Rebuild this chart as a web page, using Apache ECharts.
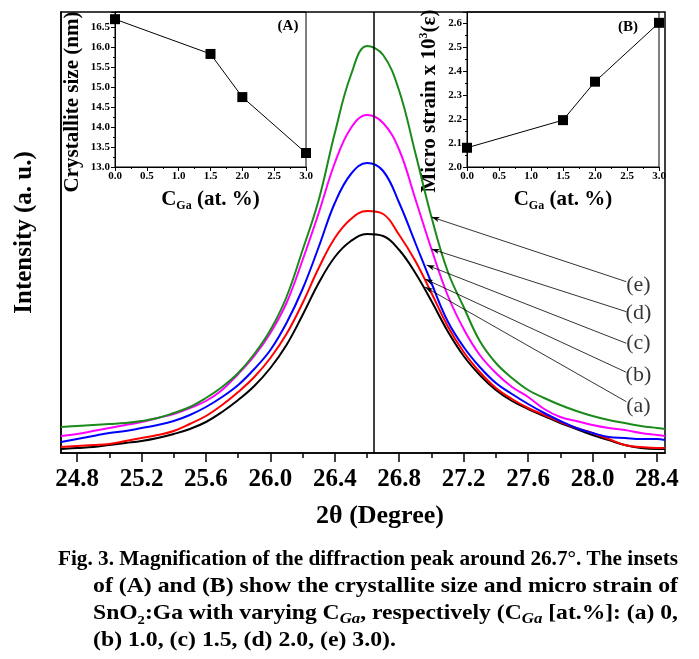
<!DOCTYPE html>
<html><head><meta charset="utf-8">
<script src="https://cdn.jsdelivr.net/npm/echarts@6/dist/echarts.min.js"></script>
<style>html,body{margin:0;padding:0;background:#fff}#c{width:699px;height:659px}</style>
</head><body><div id="c"></div>
<script>
// ---- data ----
const twoTheta   = [24.7,24.8,24.9,25.0,25.1,25.2,25.3,25.4,25.5,25.6,25.7,25.8,25.9,26.0,26.1,26.2,26.3,26.4,26.5,26.6,26.7,26.8,26.9,27.0,27.1,27.2,27.3,27.4,27.5,27.6,27.7,27.8,27.9,28.0,28.1,28.2,28.3,28.4,28.45];
const intensityA = [4,5,6,8,10,12,15,19,24,31,41,53,67,85,108,138,170,196,212,219,217,203,180,152,122,97,78,63,52,44,37,30,24,18,13,8,5,4,4];         // (a) 0 at.%
const intensityB = [6,7,8,9,12,15,18,22,29,37,48,61,76,95,119,150,185,215,234,242,239,218,192,160,127,101,81,65,54,45,38,31,25,20,14,8,6,5,5];     // (b) 1.0
const intensityC = [11,14,17,20,22,25,28,32,38,46,56,68,84,103,130,164,206,250,279,290,282,250,210,170,132,106,86,70,59,49,40,32,25,20,16,15,14,14,13]; // (c) 1.5
const intensityD = [17,19,22,25,28,31,35,39,45,52,63,79,97,120,150,193,240,290,325,338,330,303,254,204,158,124,98,80,66,56,44,36,32,28,25,23,20,18,17]; // (d) 2.0
const intensityE = [26,27,28,29,30,32,35,40,46,55,66,80,99,123,156,203,253,320,378,407,398,362,300,236,182,146,112,90,75,63,55,48,42,37,33,30,27,25,24]; // (e) 3.0
const majorTicks = [24.8,25.2,25.6,26.0,26.4,26.8,27.2,27.6,28.0,28.4];
const minorTicks = [25.0,25.4,25.8,26.2,26.6,27.0,27.4,27.8,28.2];
const peakPosition = 26.645;

const cGa = [0,1.5,2.0,3.0];
const crystalliteSize = [16.70,15.83,14.75,13.35];
const microStrain = [2.08,2.195,2.355,2.60];

const curveLabels = ['(e)','(d)','(c)','(b)','(a)'];
const labelX = [28.285,28.285,28.285,28.285,28.285];
const labelY = [168,139.7,109.7,78,46.3];
const arrowFromX = [28.21,28.21,28.21,28.21,28.21];
const arrowFromY = [171.3,141.3,109.7,80.7,51.3];
const arrowToX = [27.0,27.0,26.97,26.96,26.96];
const arrowToY = [236,204,188,174,166];

const captionLines = [
  [{t:'Fig. 3. Magnification of the diffraction peak around 26.7°. The insets',k:'n'}],
  [{t:'of (A) and (B) show the crystallite size and micro strain of',k:'n'}],
  [{t:'SnO',k:'n'},{t:'2',k:'sub'},{t:':Ga with varying C',k:'n'},{t:'Ga',k:'isub'},{t:', respectively (C',k:'n'},{t:'Ga',k:'isub'},{t:' [at.%]: (a) 0,',k:'n'}],
  [{t:'(b) 1.0, (c) 1.5, (d) 2.0, (e) 3.0).',k:'n'}]
];

// ---- styles ----
const F = '"Liberation Serif","Times New Roman",serif';
const capRich = {
  n:{fontFamily:F,fontSize:21,fontWeight:'bold',lineHeight:26,color:'#000'},
  sub:{fontFamily:F,fontSize:13,fontWeight:'bold',lineHeight:13,verticalAlign:'bottom',color:'#000'},
  isub:{fontFamily:F,fontSize:15,fontWeight:'bold',fontStyle:'italic',lineHeight:15,verticalAlign:'bottom',color:'#000'}
};
const ctx = document.createElement('canvas').getContext('2d');
function segWidth(segs){
  let w=0;
  segs.forEach(s=>{const st=capRich[s.k];ctx.font=(st.fontStyle||'normal')+' '+st.fontWeight+' '+st.fontSize+'px '+F;w+=ctx.measureText(s.t).width;});
  return w;
}
const capLeft=[58,93,93,93], capRight=678, capY=[560,587,614,641];
const capScale = captionLines.map((segs,i)=>(capRight-capLeft[i])/segWidth(segs));
capScale[3]=capScale[1];
const captionGraphics = captionLines.map((segs,i)=>({
  type:'text', x:capLeft[i], y:capY[i], scaleX:capScale[i], originX:0, originY:0,
  style:{text:segs.map(s=>'{'+s.k+'|'+s.t+'}').join(''), rich:capRich, align:'left', verticalAlign:'middle', fill:'#000'}
}));

const sub = {
  c:{fontFamily:F,fontSize:21,fontWeight:'bold',lineHeight:24,color:'#000'},
  s:{fontFamily:F,fontSize:12,fontWeight:'bold',lineHeight:12,verticalAlign:'bottom',color:'#000'},
  p:{fontFamily:F,fontSize:12,fontWeight:'bold',lineHeight:12,verticalAlign:'top',color:'#000'}
};
const insetX = (gi)=>({
  gridIndex:gi, type:'value', min:0, max:3, interval:0.5,
  axisLine:{lineStyle:{color:'#000',width:1}},
  axisTick:{length:4,lineStyle:{color:'#000'}},
  minorTick:{show:true,splitNumber:2,length:2,lineStyle:{color:'#000'}},
  axisLabel:{fontFamily:F,fontWeight:'bold',fontSize:11,color:'#000',margin:4,formatter:v=>v.toFixed(1)},
  splitLine:{show:false},
  name:'{c|C}{s|Ga}{c| (at. %)}', nameLocation:'middle', nameGap:21,
  nameTextStyle:{rich:sub}
});
const insetY = (gi,min,max,iv,name,pad,gap)=>({
  gridIndex:gi, type:'value', min:min, max:max, interval:iv,
  axisLine:{lineStyle:{color:'#000',width:1}},
  axisTick:{length:4,lineStyle:{color:'#000'}},
  minorTick:{show:true,splitNumber:2,length:2,lineStyle:{color:'#000'}},
  axisLabel:{fontFamily:F,fontWeight:'bold',fontSize:11,color:'#000',margin:5,showMaxLabel:false,formatter:v=>v.toFixed(1)},
  splitLine:{show:false},
  name:name, nameLocation:'middle', nameGap:gap,
  nameTextStyle:{rich:sub,padding:pad}
});

const mainSeries = [
  ['(a)',intensityA,'#000000'],
  ['(b)',intensityB,'#ff0000'],
  ['(c)',intensityC,'#0000ff'],
  ['(d)',intensityD,'#ff00ff'],
  ['(e)',intensityE,'#1a8a1a']
].map(([n,vals,col])=>({
  name:n, type:'line', xAxisIndex:0, yAxisIndex:0, showSymbol:false, smooth:0.4,
  data: twoTheta.map((x,i)=>[x,vals[i]]),
  lineStyle:{color:col,width:2}, itemStyle:{color:col}, z:3
}));
mainSeries[4].markLine = {silent:true, symbol:'none', label:{show:false},
  lineStyle:{color:'#000',width:1.5,type:'solid'}, data:[{xAxis:peakPosition}]};
mainSeries[0].markLine = {silent:true, symbol:['none','arrow'], symbolSize:[4,8], label:{show:false},
  lineStyle:{color:'#000',width:0.8,type:'solid'},
  data: arrowFromX.map((x,i)=>[{coord:[x,arrowFromY[i]]},{coord:[arrowToX[i],arrowToY[i]]}])};

const option = {
  animation:false,
  backgroundColor:'#fff',
  grid:[
    {left:61, top:12, width:604, height:441, show:true, borderColor:'#000', borderWidth:1.5},
    {left:115, top:12, width:191, height:155, show:true, borderColor:'#000', borderWidth:1},
    {left:467, top:12, width:192, height:155, show:true, borderColor:'#000', borderWidth:1}
  ],
  xAxis:[
    {gridIndex:0, type:'value', min:24.7, max:28.45, position:'bottom',
     axisLine:{lineStyle:{color:'#000',width:1.5}},
     axisTick:{customValues:majorTicks,length:9,lineStyle:{color:'#000',width:1.5}},
     axisLabel:{customValues:majorTicks,fontFamily:F,fontWeight:'bold',fontSize:25,color:'#000',margin:14,formatter:v=>v.toFixed(1)},
     splitLine:{show:false},
     name:'2θ (Degree)', nameLocation:'middle', nameGap:50,
     nameTextStyle:{fontFamily:F,fontWeight:'bold',fontSize:26,color:'#000',padding:[0,0,0,34]}},
    {gridIndex:0, type:'value', min:24.7, max:28.45, position:'bottom', offset:0,
     axisLine:{show:false},
     axisTick:{customValues:minorTicks,length:5,lineStyle:{color:'#000',width:1.5}},
     axisLabel:{show:false}, splitLine:{show:false}},
    insetX(1), insetX(2)
  ],
  yAxis:[
    {gridIndex:0, type:'value', min:0, max:441,
     axisLine:{show:true,lineStyle:{color:'#000',width:1.5}}, axisTick:{show:false}, axisLabel:{show:false}, splitLine:{show:false},
     name:'Intensity (a. u.)', nameLocation:'middle', nameGap:24,
     nameTextStyle:{fontFamily:F,fontWeight:'bold',fontSize:25,color:'#000'}},
    insetY(1,13.0,16.88,0.5,'{c|Crystallite size (nm)}',[0,25,0,0],30),
    insetY(2,2.0,2.645,0.1,'{c|Micro strain x 10}{p|3}{c|(ε)}',[0,23,0,0],25)
  ],
  series: mainSeries.concat([
    {name:'labels', type:'scatter', xAxisIndex:0, yAxisIndex:0, symbolSize:0, silent:true,
     data: labelX.map((x,i)=>({value:[x,labelY[i]], label:{formatter:curveLabels[i]}})),
     label:{show:true, position:'inside', fontFamily:F, fontSize:22, color:'#000'}},
    {name:'size', type:'line', xAxisIndex:2, yAxisIndex:1, data:cGa.map((x,i)=>[x,crystalliteSize[i]]),
     symbol:'rect', symbolSize:10, lineStyle:{color:'#000',width:1}, itemStyle:{color:'#000'}},
    {name:'strain', type:'line', xAxisIndex:3, yAxisIndex:2, data:cGa.map((x,i)=>[x,microStrain[i]]),
     symbol:'rect', symbolSize:10, lineStyle:{color:'#000',width:1}, itemStyle:{color:'#000'}}
  ]),
  graphic: [
    {type:'text', x:288, y:26, style:{text:'(A)', font:'bold 15px '+F, fill:'#000', align:'center', verticalAlign:'middle'}},
    {type:'text', x:628, y:27, style:{text:'(B)', font:'bold 15px '+F, fill:'#000', align:'center', verticalAlign:'middle'}}
  ].concat(captionGraphics)
};
const chart = echarts.init(document.getElementById('c'), null, {renderer:'canvas'});
chart.setOption(option);
</script></body></html>
